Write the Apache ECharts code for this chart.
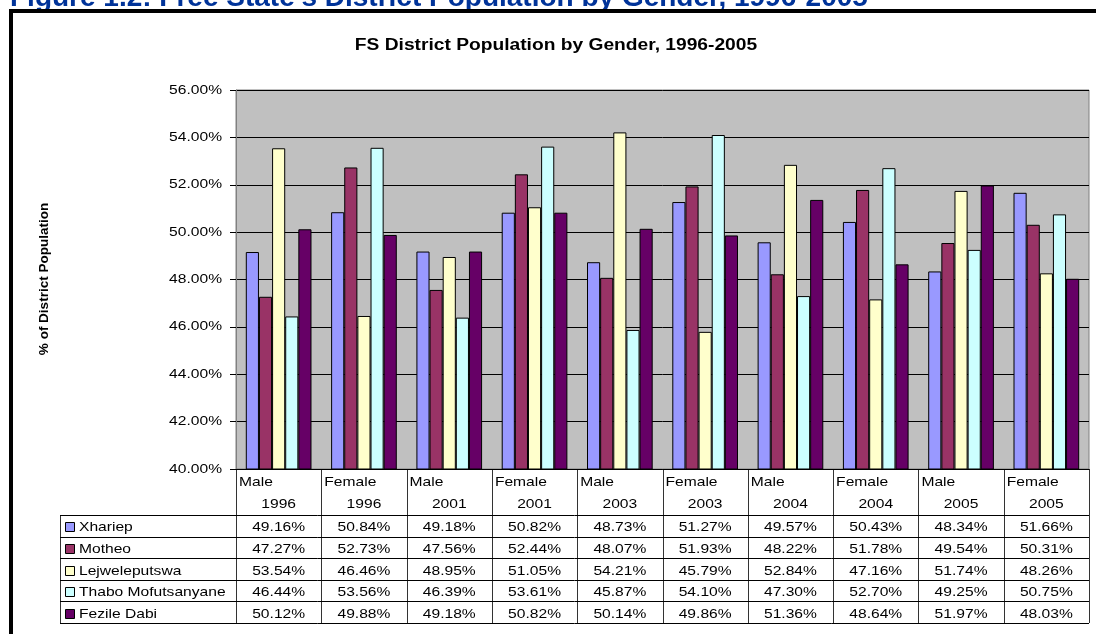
<!DOCTYPE html>
<html>
<head>
<meta charset="utf-8">
<script src="https://cdn.jsdelivr.net/npm/echarts@6/dist/echarts.min.js"></script>
<style>
html,body{margin:0;padding:0;background:#fff;}
#chart{width:1096px;height:634px;}
</style>
</head>
<body>
<div id="chart"></div>
<script>
const genders = ['Male','Female','Male','Female','Male','Female','Male','Female','Male','Female'];
const years = ['1996','1996','2001','2001','2003','2003','2004','2004','2005','2005'];
const categories = genders.map((g,i)=>g+' '+years[i]);
const seriesNames = ['Xhariep','Motheo','Lejweleputswa','Thabo Mofutsanyane','Fezile Dabi'];
const xhariep = [49.16,50.84,49.18,50.82,48.73,51.27,49.57,50.43,48.34,51.66];
const motheo = [47.27,52.73,47.56,52.44,48.07,51.93,48.22,51.78,49.54,50.31];
const lejweleputswa = [53.54,46.46,48.95,51.05,54.21,45.79,52.84,47.16,51.74,48.26];
const thabo = [46.44,53.56,46.39,53.61,45.87,54.10,47.30,52.70,49.25,50.75];
const fezile = [50.12,49.88,49.18,50.82,50.14,49.86,51.36,48.64,51.97,48.03];
const seriesData = [xhariep,motheo,lejweleputswa,thabo,fezile];
const colors = ['#9999FF','#993366','#FFFFCC','#CCFFFF','#660066'];
const yMin = 40, yMax = 56, yStep = 2;
const yTicks = [40,42,44,46,48,50,52,54,56];
const chartTitle = 'FS District Population by Gender, 1996-2005';
const yAxisTitle = '% of District Population';
const figureCaption = "Figure 1.2: Free State's District Population by Gender, 1996-2005";

const FONT = 'Arial, "Liberation Sans", sans-serif';
const SX = 1.2; // horizontal stretch of the original picture's text
const chart = echarts.init(document.getElementById('chart'), null, {renderer:'canvas'});

const option = {
  animation:false,
  backgroundColor:'#fff',
  grid:{left:236,right:7,top:90,height:379,show:true,backgroundColor:'#C0C0C0',borderColor:'#808080',borderWidth:1},
  xAxis:{type:'category',data:categories,axisLine:{show:true,lineStyle:{color:'#000'}},axisTick:{show:false},axisLabel:{show:false}},
  yAxis:{type:'value',min:yMin,max:yMax,interval:yStep,
    axisLine:{show:true,lineStyle:{color:'#808080'}},
    axisTick:{show:true,length:6,lineStyle:{color:'#000'}},
    axisLabel:{show:false},
    splitLine:{show:true,lineStyle:{color:'#000',width:1}}
  },
  series:seriesData.map((d,i)=>({
    name:seriesNames[i],type:'bar',data:d,barGap:'0%',barCategoryGap:'23%',
    itemStyle:{color:colors[i],borderColor:'#000',borderWidth:1}
  }))
};
chart.setOption(option);

const c0 = chart.convertToPixel({xAxisIndex:0},0);
const c1 = chart.convertToPixel({xAxisIndex:0},1);
const colW = c1-c0;
const plotLeft = c0-colW/2;
const plotRight = plotLeft+colW*categories.length;
const plotTop = chart.convertToPixel({yAxisIndex:0},yMax);
const plotBottom = chart.convertToPixel({yAxisIndex:0},yMin);
const headBottom = plotBottom+46;
const rowH = 21.6;
const tableLeft = 60;
const tableBottom = headBottom+rowH*seriesNames.length;
const els = [];
function txt(x,y,text,opt){
  opt=opt||{};
  return {type:'text',x:x,y:y,scaleX:opt.sx===undefined?SX:opt.sx,rotation:opt.rot||0,z:opt.z||10,
    style:{text:text,font:(opt.bold?'bold ':'')+(opt.size||13)+'px '+FONT,fill:opt.color||'#000',
      align:opt.align||'left',verticalAlign:opt.va||'middle'}};
}
// caption (cut off at top) and frame
els.push(txt(10,12.5,figureCaption,{size:28,bold:true,color:'#003399',va:'bottom',sx:1,z:50}));
els.push({type:'rect',shape:{x:11,y:11,width:1200,height:700},style:{fill:null,stroke:'#000',lineWidth:4},z:100});
// chart title
els.push(txt(556,46,chartTitle,{size:16,bold:true,align:'center'}));
// y axis title
els.push(txt(44,279,yAxisTitle,{size:13.5,bold:true,align:'center',rot:Math.PI/2,sx:1}));
// y tick labels
yTicks.forEach(v=>{
  els.push(txt(222,chart.convertToPixel({yAxisIndex:0},v),v.toFixed(2)+'%',{align:'right'}));
});
// table lines
for(let i=0;i<=categories.length;i++){
  const x=Math.round(plotLeft+i*colW)+0.5;
  els.push({type:'line',shape:{x1:x,y1:plotBottom,x2:x,y2:tableBottom},style:{stroke:'#333',lineWidth:1}});
}
els.push({type:'line',shape:{x1:tableLeft+0.5,y1:headBottom,x2:tableLeft+0.5,y2:tableBottom},style:{stroke:'#333',lineWidth:1}});
for(let r=0;r<=seriesNames.length;r++){
  const y=Math.round(headBottom+r*rowH)+0.5;
  els.push({type:'line',shape:{x1:tableLeft,y1:y,x2:plotRight,y2:y},style:{stroke:'#000',lineWidth:1}});
}
// header labels and values
for(let i=0;i<categories.length;i++){
  const cx = chart.convertToPixel({xAxisIndex:0},i);
  els.push(txt(cx-colW/2+3,plotBottom+13,genders[i]));
  els.push(txt(cx,plotBottom+35,years[i],{align:'center'}));
  for(let r=0;r<seriesNames.length;r++){
    els.push(txt(cx,headBottom+rowH*r+rowH/2+2,seriesData[r][i].toFixed(2)+'%',{align:'center'}));
  }
}
// legend keys
for(let r=0;r<seriesNames.length;r++){
  const yc = headBottom+rowH*r+rowH/2+1;
  els.push({type:'rect',shape:{x:65.5,y:Math.round(yc-4.5)+0.5,width:9,height:9},style:{fill:colors[r],stroke:'#000',lineWidth:1}});
  els.push(txt(79,yc+1,seriesNames[r]));
}
chart.setOption({graphic:{elements:els}});
</script>
</body>
</html>
